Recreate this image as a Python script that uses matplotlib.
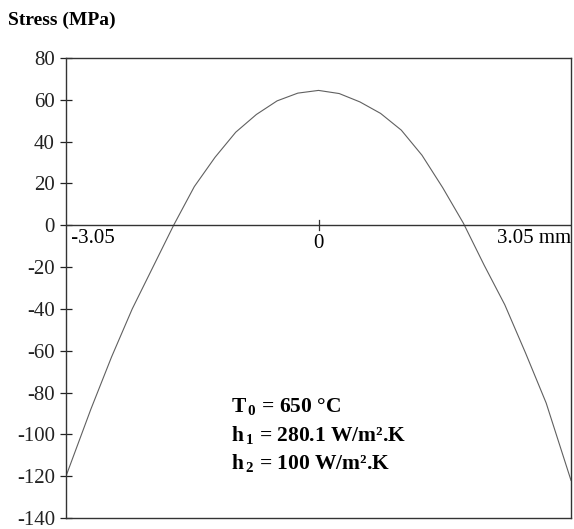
import matplotlib
matplotlib.use("Agg")
import matplotlib.pyplot as plt

# data
x_mm = [-3.05, -2.75, -2.5, -2.25, -2.0, -1.75, -1.5, -1.25, -1.0, -0.75, -0.5, -0.25, 0.0,
        0.25, 0.5, 0.75, 1.0, 1.25, 1.5, 1.75, 2.0, 2.25, 2.5, 2.75, 3.05]
stress = [-120, -88, -63, -40, -20, 0, 18.5, 32.5, 44.5, 53, 59.5, 63.2, 64.5,
          63, 59, 53.5, 45.5, 33.5, 18, 1, -19, -38, -61, -85, -122]
y_ticks = [80, 60, 40, 20, 0, -20, -40, -60, -80, -100, -120, -140]
x_labels = ["-3.05", "0", "3.05 mm"]

plt.rcParams['font.family'] = ['Liberation Serif', 'DejaVu Serif']
plt.rcParams['axes.unicode_minus'] = False
plt.rcParams['mathtext.fontset'] = 'custom'
plt.rcParams['mathtext.rm'] = 'Liberation Serif'
plt.rcParams['mathtext.bf'] = 'Liberation Serif:bold'

fig = plt.figure(figsize=(5.74, 5.29), dpi=100)
ax = fig.add_axes([66/574, 1-518/529, (571-66)/574, (518-58)/529])

ax.plot(x_mm, stress, color='#606060', lw=0.8)
ax.axhline(0, color='#333333', lw=1.0)
ax.set_xlim(-3.05, 3.05)
ax.set_ylim(-140, 80)
ax.set_yticks(y_ticks)
ax.set_yticklabels([str(v) for v in y_ticks], fontsize=15)
ax.tick_params(axis='y', direction='inout', length=8, width=0.9, colors='#222222', pad=4)
ax.set_xticks([])
for s in ax.spines.values():
    s.set_color('#333333')
    s.set_linewidth(1.0)

# zero-line tick and labels
ax.plot([0, 0], [-2.5, 2.5], color='#333333', lw=0.9)
ax.text(-3.05, -2, " " + x_labels[0], ha='left', va='top', fontsize=15)
ax.text(0, -4, x_labels[1], ha='center', va='top', fontsize=15)
ax.text(3.05, -2, x_labels[2], ha='right', va='top', fontsize=15)

fig.text(8/574, 1-20/529, "Stress (MPa)", fontsize=14, fontweight='bold', va='center', ha='left')

ax.text(-1.06, -87, r"T$_{\,\mathbf{0}}$ = 650 °C", fontsize=15.5, fontweight='bold', ha='left', va='center')
ax.text(-1.06, -100.5, r"h$_{\,\mathbf{1}}$ = 280.1 W/m².K", fontsize=15.5, fontweight='bold', ha='left', va='center')
ax.text(-1.06, -114, r"h$_{\,\mathbf{2}}$ = 100 W/m².K", fontsize=15.5, fontweight='bold', ha='left', va='center')

fig.savefig("out.png", dpi=100)
